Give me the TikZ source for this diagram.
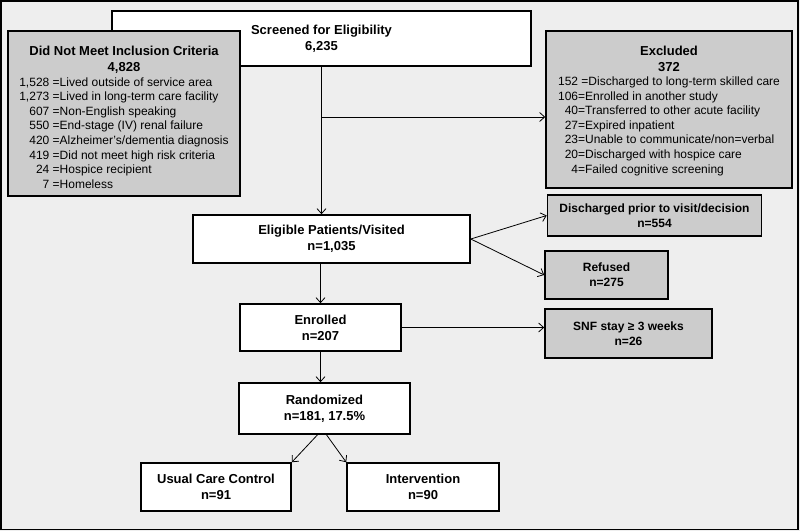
\documentclass[tikz,border=0pt]{standalone}
\usepackage{fontspec}
\setmainfont{Liberation Sans}
\usetikzlibrary{arrows.meta}

\definecolor{sfondo}{HTML}{EEEEEE}
\definecolor{grigio}{HTML}{CCCCCC}

\newcommand{\titolo}{\fontsize{13}{16}\selectfont\bfseries}
\newcommand{\piccolo}{\fontsize{12}{15}\selectfont\bfseries}
\newcommand{\elenco}{\normalfont\fontsize{12}{14.6}\selectfont}

\begin{document}
\begin{tikzpicture}[x=1pt, y=-1pt,
    whitebox/.style={draw, line width=1.6pt, fill=white, align=center, inner sep=2pt, font=\titolo},
    graybox/.style={whitebox, fill=grigio},
    link/.style={-{Straight Barb[length=5pt, width=9pt]}, line width=0.8pt}]

    % Sfondo e cornice
    \fill[sfondo] (0,0) rectangle (800,531);
    \draw[line width=1.5pt] (1,1) rectangle (798,529.5);

    % Screening e criteri di inclusione
    \node[whitebox, minimum width=419, minimum height=55] (box_screen) at (321.5,38.5) {Screened for Eligibility\\6,235};
    \node[graybox, minimum width=232, minimum height=165] (box_notmet) at (124,113.5) {\rule{0pt}{20.6pt}Did Not Meet Inclusion Criteria\\4,828\\[-1pt]
        {\elenco\begin{tabular}[t]{@{}r@{ }l@{}}
        1,528 & =Lived outside of service area\\
        1,273 & =Lived in long-term care facility\\
        607 & =Non-English speaking\\
        550 & =End-stage (IV) renal failure\\
        420 & =Alzheimer's/dementia diagnosis\\
        419 & =Did not meet high risk criteria\\
        24 & =Hospice recipient\\
        7 & =Homeless
        \end{tabular}}};
    \node[graybox, minimum width=246, minimum height=157] (box_excl) at (669,109.5) {\rule{0pt}{13.5pt}Excluded\\372\\[-1.5pt]
        {\elenco\begin{tabular}[t]{@{}r@{}l@{}}
        152 & \ =Discharged to long-term skilled care\\
        106 & =Enrolled in another study\\
        40 & =Transferred to other acute facility\\
        27 & =Expired inpatient\\
        23 & =Unable to communicate/non=verbal\\
        20 & =Discharged with hospice care\\
        4 & =Failed cognitive screening
        \end{tabular}}};

    % Pazienti eleggibili e arruolati
    \node[whitebox, minimum width=277, minimum height=48] (box_elig) at (331.5,239) {Eligible Patients/Visited\\n=1,035};
    \node[graybox, font=\piccolo, minimum width=214, minimum height=41] (box_disch) at (654.5,215.5) {Discharged prior to visit/decision\\n=554};
    \node[graybox, font=\piccolo, minimum width=123, minimum height=48] (box_refused) at (606.5,275) {Refused\\n=275};
    \node[whitebox, minimum width=161, minimum height=47] (box_enrolled) at (320.5,327.5) {Enrolled\\n=207};
    \node[graybox, font=\piccolo, minimum width=167, minimum height=49] (box_snf) at (628.5,333.5) {SNF stay ≥ 3 weeks\\n=26};

    % Randomizzazione
    \node[whitebox, minimum width=171, minimum height=51] (box_random) at (324.5,408.5) {Randomized\\n=181, 17.5\%};
    \node[whitebox, minimum width=150, minimum height=48] (box_usual) at (216,487) {Usual Care Control\\n=91};
    \node[whitebox, minimum width=152, minimum height=48] (box_interv) at (423,487) {Intervention\\n=90};

    % Frecce
    \coordinate (split) at (321.5,117);
    \draw[link] (box_screen.south) -- (box_screen.south |- box_elig.north);
    \draw[link] (split) -- (split -| box_excl.west);
    \draw[link] (box_elig.east) -- (box_disch.west);
    \draw[link] (box_elig.east) -- (box_refused.west);
    \draw[link] (box_enrolled.north |- box_elig.south) -- (box_enrolled.north);
    \draw[link] (box_enrolled.east) -- (box_enrolled.east -| box_snf.west);
    \draw[link] (box_enrolled.south) -- (box_enrolled.south |- box_random.north);
    \draw[link] ([xshift=-7pt]box_random.south) -- (box_usual.north east);
    \draw[link] ([xshift=2pt]box_random.south) -- (box_interv.north west);
\end{tikzpicture}
\end{document}
